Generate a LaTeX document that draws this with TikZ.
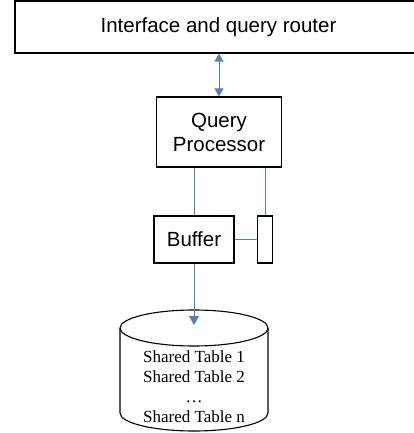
\documentclass[tikz,border=0pt]{standalone}
\usepackage{fontspec}
\setmainfont{Liberation Sans}
\newfontfamily\tablefont{Liberation Serif}
\usetikzlibrary{arrows.meta, positioning}
\definecolor{linkblue}{RGB}{79,129,189}

\begin{document}
\begin{tikzpicture}[x=1pt, y=-1pt,
    box/.style={rectangle, draw, line width=1.1pt, inner sep=0pt, align=center, font=\fontsize{20.5}{24}\selectfont},
    link/.style={draw=linkblue, line width=1pt}]
    \useasboundingbox (0,0) rectangle (414,433);
    % 顶部接口框, 右边伸出画面
    \node[box, minimum width=407pt, minimum height=52pt] (router) at (218.5,27) {Interface and query router};
    % 处理器, 缓冲区和旁边的小框
    \node[box, minimum width=125pt, minimum height=70pt] (qp) at (219,132) {Query\\Processor};
    \node[box, minimum width=80pt, minimum height=47pt] (buffer) at (194,239.5) {Buffer};
    \node[box, minimum width=15pt, minimum height=47pt] (side) at (265,239.5) {};

    % 连线
    \draw[link, {Triangle[length=8pt,width=9pt]}-{Triangle[length=8pt,width=9pt]}] (qp.north |- router.south) -- (qp.north);
    \draw[link] (buffer.north) -- (buffer.north |- qp.south);
    \draw[link] (side.north) -- (side.north |- qp.south);
    \draw[link] (buffer.east) -- (side.west);

    % 数据库圆柱
    \draw[line width=1.1pt] (194,328) ellipse [x radius=74, y radius=18];
    \draw[line width=1.1pt] (120,328) -- (120,413) arc[start angle=180, end angle=0, x radius=74, y radius=18] -- (268,328);
    \coordinate (tip) at (194,325);
    \draw[link, -{Triangle[length=9pt,width=10pt]}] (buffer.south) -- (tip);
    \node[font=\tablefont\fontsize{17}{20}\selectfont, align=center, inner sep=0pt] (tables) at (194,387) {Shared Table 1\\Shared Table 2\\\ldots\\Shared Table n};
\end{tikzpicture}
\end{document}
